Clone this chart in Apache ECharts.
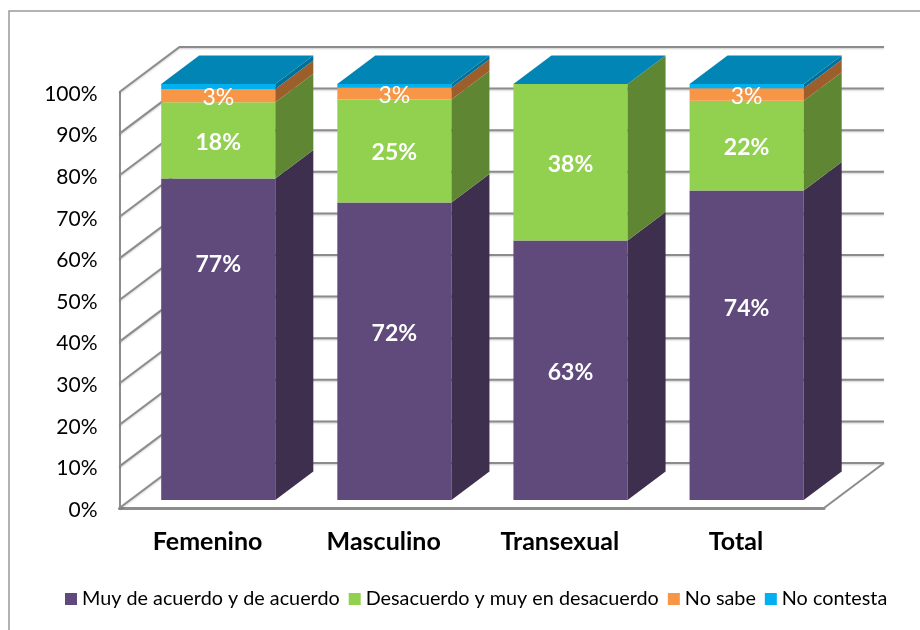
<!DOCTYPE html>
<html>
<head>
<meta charset="utf-8">
<script src="https://cdn.jsdelivr.net/npm/echarts@6/dist/echarts.min.js"></script>
<style>
  html, body { margin: 0; padding: 0; background: #fff; }
  #main { width: 920px; height: 630px; }
</style>
</head>
<body>
<div id="main"></div>
<script>
const categories = ['Femenino', 'Masculino', 'Transexual', 'Total'];
const yTicks = [0, 10, 20, 30, 40, 50, 60, 70, 80, 90, 100];
const seriesNames = ['Muy de acuerdo y de acuerdo', 'Desacuerdo y muy en desacuerdo', 'No sabe', 'No contesta'];

const acuerdo = [77.3, 71.5, 62.4, 74.4];
const desacuerdo = [18.3, 24.8, 37.6, 21.6];
const noSabe = [3.2, 2.8, 0, 3];
const noContesta = [1.2, 0.9, 0, 1];

// the printed labels, rounded in the source so Transexual adds up to 101
const acuerdoLabels = ['77%', '72%', '63%', '74%'];
const desacuerdoLabels = ['18%', '25%', '38%', '22%'];
const noSabeLabels = ['3%', '3%', '', '3%'];
// the purple labels were dragged by hand in the original, axis value where they sit
const acuerdoLabelAt = [57, 40.4, 31.2, 46.4];

const rows = [acuerdo, desacuerdo, noSabe, noContesta];
const front = ['#604A7B', '#92D050', '#F79646', '#00B0F0'];
const side = ['#3F2F4F', '#5F8632', '#9C5F2C', '#006F9A'];
const topFace = '#0085B5';

// fake 3d offsets in px
const wallDx = 60, wallDy = -45;
const barShiftX = 10.7, barShiftY = -8;
const barDx = 38, barDy = -28.5;
const barRatio = 0.648;

const lineGrey = '#8C8C8C';

function stackBelow(s, i) {
  let sum = 0;
  for (let k = 0; k < s; k++) sum += rows[k][i];
  return sum;
}

function segmentRenderer(s) {
  return function (params, api) {
    const i = api.value(0);
    const w = api.size([1, 0])[0] * barRatio;
    const base = stackBelow(s, i);
    const p0 = api.coord([i, base]);
    const p1 = api.coord([i, base + rows[s][i]]);
    const xl = p0[0] + barShiftX - w / 2;
    const xr = xl + w;
    const y0 = p0[1] + barShiftY;
    const y1 = p1[1] + barShiftY;
    const children = [];
    if (rows[s][i] > 0) {
      children.push({
        type: 'rect',
        shape: { x: xl, y: y1, width: w, height: y0 - y1 },
        style: { fill: front[s] }
      });
      children.push({
        type: 'polygon',
        shape: { points: [[xr, y0], [xr + barDx, y0 + barDy], [xr + barDx, y1 + barDy], [xr, y1]] },
        style: { fill: side[s] }
      });
    }
    // lid of the column, blue even where No contesta is empty
    if (s === rows.length - 1) {
      children.push({
        type: 'polygon',
        shape: { points: [[xl, y1], [xl + barDx, y1 + barDy], [xr + barDx, y1 + barDy], [xr, y1]] },
        style: { fill: topFace }
      });
    }
    return { type: 'group', children: children };
  };
}

function wallRenderer(params, api) {
  const v = api.value(0);
  const left = api.coord([0, v]);
  const x0 = params.coordSys.x;
  const x1 = x0 + params.coordSys.width;
  const y = left[1];
  return {
    type: 'polyline',
    shape: { points: [[x0, y], [x0 + wallDx, y + wallDy], [x1 + wallDx, y + wallDy]] },
    style: { fill: null, stroke: lineGrey, lineWidth: 2, shadowColor: 'rgba(0,0,0,0.2)', shadowBlur: 2, shadowOffsetY: 1 }
  };
}

function floorRenderer(params, api) {
  const y = api.coord([0, 0])[1];
  const x1 = params.coordSys.x + params.coordSys.width;
  return {
    type: 'polyline',
    shape: { points: [[x1, y], [x1 + wallDx, y + wallDy]] },
    style: { fill: null, stroke: lineGrey, lineWidth: 2 }
  };
}

function labelRenderer(params, api) {
  const i = api.value(0);
  const s = api.value(1);
  const text = [acuerdoLabels, desacuerdoLabels, noSabeLabels][s][i];
  let at = s === 0 ? acuerdoLabelAt[i] : stackBelow(s, i) + rows[s][i] / 2;
  const p = api.coord([i, at]);
  return {
    type: 'text',
    style: {
      x: p[0] + barShiftX,
      y: p[1] + barShiftY + 2,
      text: text,
      fill: '#fff',
      font: (s === 2 ? 'normal ' : 'bold ') + '23px Lato',
      align: 'center',
      verticalAlign: 'middle'
    }
  };
}

const labelCells = [];
categories.forEach((c, i) => {
  [0, 1, 2].forEach(s => labelCells.push([i, s]));
});

const seriesList = [
  {
    type: 'custom',
    silent: true,
    z: 1,
    renderItem: wallRenderer,
    data: yTicks.map(v => [v]),
    encode: { y: 0 }
  },
  {
    type: 'custom',
    silent: true,
    z: 1,
    renderItem: floorRenderer,
    data: [[0]],
    encode: { y: 0 }
  }
];
seriesNames.forEach((name, s) => {
  seriesList.push({
    name: name,
    type: 'custom',
    z: 3,
    itemStyle: { color: front[s] },
    renderItem: segmentRenderer(s),
    data: categories.map((c, i) => [i, rows[s][i]]),
    encode: { x: 0, y: 1 }
  });
});
seriesList.push({
  type: 'custom',
  silent: true,
  z: 5,
  renderItem: labelRenderer,
  data: labelCells,
  encode: { x: 0 }
});

const myChart = echarts.init(document.getElementById('main'), null, { renderer: 'canvas' });
myChart.setOption({
  animation: false,
  backgroundColor: '#fff',
  textStyle: { fontFamily: 'Lato' },
  grid: { left: 119.5, top: 92, width: 704.5, height: 416 },
  legend: {
    data: seriesNames,
    left: 60,
    top: 584,
    icon: 'rect',
    itemWidth: 12,
    itemHeight: 12,
    itemGap: 9,
    selectedMode: false,
    textStyle: { fontFamily: 'Lato', fontSize: 19.8, color: '#000' }
  },
  xAxis: {
    type: 'category',
    data: categories,
    axisTick: { show: false },
    axisLine: { lineStyle: { color: lineGrey, width: 3 } },
    axisLabel: { color: '#000', fontFamily: 'Lato', fontSize: 25, fontWeight: 'bold', margin: 21 }
  },
  yAxis: {
    type: 'value',
    min: 0,
    max: 100,
    interval: 10,
    splitLine: { show: false },
    axisTick: { show: false },
    axisLine: { show: true, lineStyle: { color: lineGrey, width: 2 } },
    axisLabel: {
      margin: 22,
      formatter: '{t|{value}%}',
      rich: { t: { color: '#000', fontFamily: 'Lato', fontSize: 21, padding: [4, 0, 0, 0] } }
    }
  },
  graphic: [{
    type: 'rect',
    silent: true,
    z: -1,
    shape: { x: 9, y: 11, width: 1000, height: 1000 },
    style: { fill: null, stroke: '#999999', lineWidth: 1.5 }
  }],
  series: seriesList
});
</script>
</body>
</html>
